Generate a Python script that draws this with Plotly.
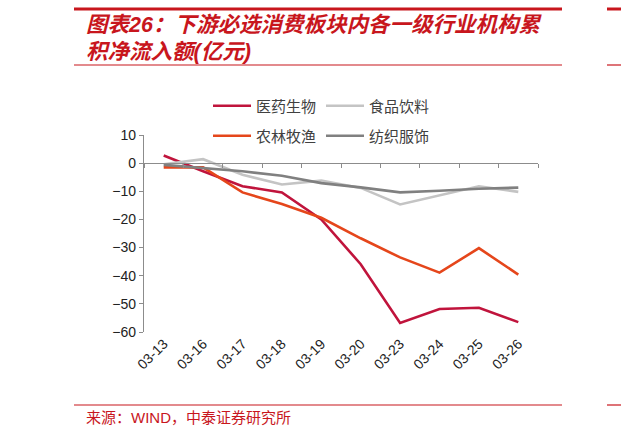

# -*- coding: utf-8 -*-

import plotly.graph_objects as go

# Data (亿元)
dates = ["03-13", "03-16", "03-17", "03-18", "03-19",
         "03-20", "03-23", "03-24", "03-25", "03-26"]
pharma = [2.7, -2.9, -8.2, -10.4, -20.0, -35.9, -56.8, -51.8, -51.4, -56.5]
food = [-0.4, 1.4, -4.1, -7.6, -6.2, -8.8, -14.7, -11.4, -8.2, -10.2]
agri = [-1.5, -1.5, -10.4, -14.5, -19.4, -26.7, -33.5, -38.9, -30.2, -39.6]
textile = [-0.6, -1.8, -2.9, -4.5, -7.1, -8.6, -10.4, -9.8, -9.1, -8.7]
y_ticks = [10, 0, -10, -20, -30, -40, -50, -60]

W, H = 621, 437
L, R, T, B = 144, 83, 135, 105
PW, PH = W - L - R, H - T - B
RED = "#C8161D"
CJK = "Noto Sans CJK SC"
MIXED = "Liberation Sans, Noto Sans CJK SC"


def px_x(px):
    return (px - L) / PW


def px_y(py):
    return (H - B - py) / PH


fig = go.Figure()

series = [
    ("医药生物", pharma, "#C0143C", "legend"),
    ("食品饮料", food, "#C4C4C4", "legend"),
    ("农林牧渔", agri, "#E5461B", "legend2"),
    ("纺织服饰", textile, "#808080", "legend2"),
]
for name, vals, col, leg in series:
    fig.add_trace(go.Scatter(x=dates, y=vals, name=name, mode="lines",
                             line=dict(color=col, width=2.6), legend=leg))

# invisible helper so the zero-line axis (with its ticks) gets drawn
fig.add_trace(go.Scatter(x=dates, y=[None] * len(dates), xaxis="x2",
                         showlegend=False, hoverinfo="skip"))

y_min, y_max = min(y_ticks), max(y_ticks)
zero_pos = (0 - y_min) / (y_max - y_min)

legend_style = dict(orientation="h", xanchor="left", yanchor="middle",
                    entrywidth=60, entrywidthmode="pixels", itemwidth=38,
                    font=dict(family=CJK, size=15, color="#404040"),
                    bgcolor="rgba(0,0,0,0)", tracegroupgap=0)

fig.update_layout(
    width=W, height=H,
    margin=dict(l=L, r=R, t=T, b=B, autoexpand=False),
    paper_bgcolor="white", plot_bgcolor="white",
    font=dict(family="Liberation Sans, Arial", color="#222222"),
    xaxis=dict(type="category", categoryorder="array", categoryarray=dates,
               range=[-0.5, len(dates) - 0.5], showline=False, showgrid=False,
               zeroline=False, ticks="", tickangle=-45, automargin=False,
               tickfont=dict(size=14, color="#222222")),
    xaxis2=dict(type="category", categoryorder="array", categoryarray=dates,
                range=[-0.5, len(dates) - 0.5], overlaying="x", anchor="free",
                position=zero_pos, side="bottom", showline=True,
                linecolor="#8C8C8C", linewidth=1.3, ticks="outside",
                tickson="boundaries", ticklen=4, tickcolor="#8C8C8C",
                showticklabels=False, showgrid=False, zeroline=False,
                automargin=False),
    yaxis=dict(range=[y_min, y_max], tickvals=y_ticks, showgrid=False,
               zeroline=False, showline=True, linecolor="#8C8C8C",
               linewidth=1.3, ticks="outside", ticklen=4, automargin=False,
               tickcolor="#8C8C8C", tickfont=dict(size=14, color="#222222")),
    legend=dict(x=px_x(208), y=px_y(106), **legend_style),
    legend2=dict(x=px_x(208), y=px_y(136), **legend_style),
    showlegend=True,
)

# header / footer decorations
rules = [(74, 562, 9, 3), (607, 621, 9, 3), (74, 562, 65, 1.2),
         (607, 621, 65, 1.2), (74, 562, 405, 1.2), (607, 621, 405, 1.2)]
for x0, x1, yy, w in rules:
    fig.add_shape(type="line", xref="paper", yref="paper",
                  x0=px_x(x0), x1=px_x(x1), y0=px_y(yy), y1=px_y(yy),
                  line=dict(color=RED, width=w))

title_lines = ["图表26：下游必选消费板块内各一级行业机构累", "积净流入额(亿元)"]
for i, line in enumerate(title_lines):
    fig.add_annotation(
        text=line, xref="paper", yref="paper",
        x=px_x(84), y=px_y(25 + 27 * i),
        xanchor="left", yanchor="middle", align="left", showarrow=False,
        font=dict(family=MIXED, size=21.5, color=RED, weight="bold",
                  style="italic"))

fig.add_annotation(
    text="来源：WIND，中泰证券研究所",
    xref="paper", yref="paper", x=px_x(84), y=px_y(417),
    xanchor="left", yanchor="middle", showarrow=False,
    font=dict(family=MIXED, size=15, color=RED))

# page body has a default 8px margin; drop it so the figure sits at 0,0
fig.write_html("out.html", config={"displayModeBar": False},
               post_script="document.body.style.margin='0';")
